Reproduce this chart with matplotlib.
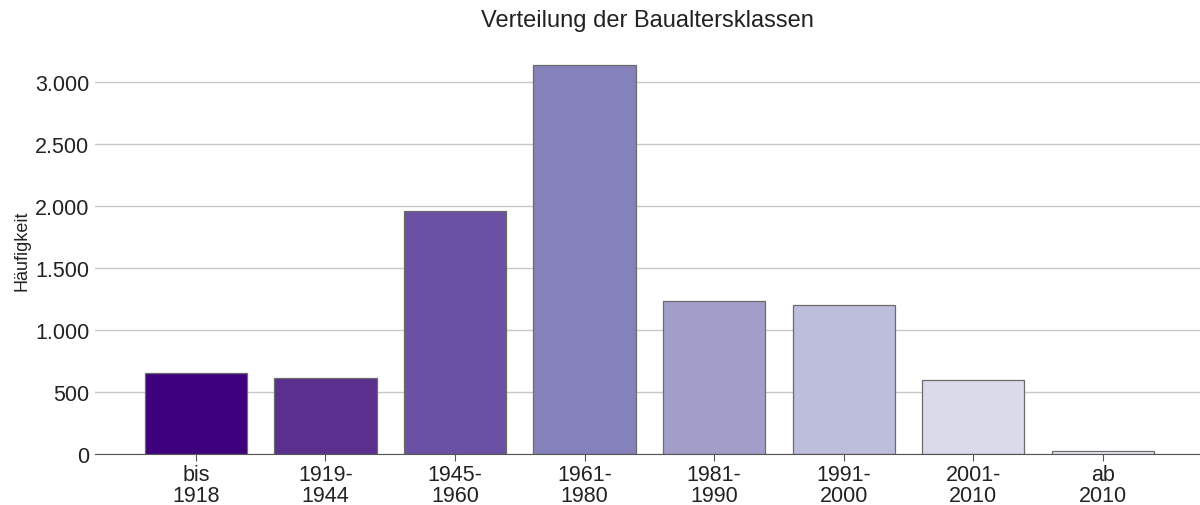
import matplotlib
matplotlib.use("Agg")
import matplotlib.pyplot as plt
from matplotlib.ticker import FuncFormatter

plt.rcParams["font.family"] = ["Liberation Sans", "DejaVu Sans"]

# Daten
klassen = ["bis\n1918", "1919-\n1944", "1945-\n1960", "1961-\n1980",
           "1981-\n1990", "1991-\n2000", "2001-\n2010", "ab\n2010"]
haeufigkeit = [651, 611, 1959, 3142, 1235, 1205, 600, 22]
farben = ["#3f007d", "#5a2f8d", "#6a51a3", "#8582bb",
          "#a19fc9", "#bdbddc", "#dadaeb", "#eeedf5"]

fig = plt.figure(figsize=(12, 5.06), dpi=100)
ax = fig.add_axes([0.079, 0.101, 0.921, 0.808])

x = range(len(klassen))
ax.bar(x, haeufigkeit, width=0.79, color=farben, edgecolor="#6b6b6b", linewidth=0.9, zorder=3)

ax.set_xlim(-0.78, 7.75)
ax.set_ylim(0, 3300)
ax.set_yticks([0, 500, 1000, 1500, 2000, 2500, 3000])
ax.yaxis.set_major_formatter(FuncFormatter(lambda v, p: f"{int(v):,}".replace(",", ".")))
ax.set_xticks(list(x))
ax.set_xticklabels(klassen, linespacing=1.05)

ax.grid(axis="y", color="#c8c8c8", linewidth=1, zorder=0)
for s in ["top", "right", "left"]:
    ax.spines[s].set_visible(False)
ax.spines["bottom"].set_color("#555555")
ax.spines["bottom"].set_zorder(4)

ax.tick_params(axis="y", length=0, labelsize=15.5, pad=4, labelcolor="#222222")
ax.tick_params(axis="x", length=5, color="#555555", labelsize=15.5, pad=2, labelcolor="#222222")

ax.set_ylabel("Häufigkeit", fontsize=13, color="#222222", labelpad=3)
ax.set_title("Verteilung der Baualtersklassen", fontsize=17, color="#222222", pad=14)

fig.savefig("out.png", dpi=100)
